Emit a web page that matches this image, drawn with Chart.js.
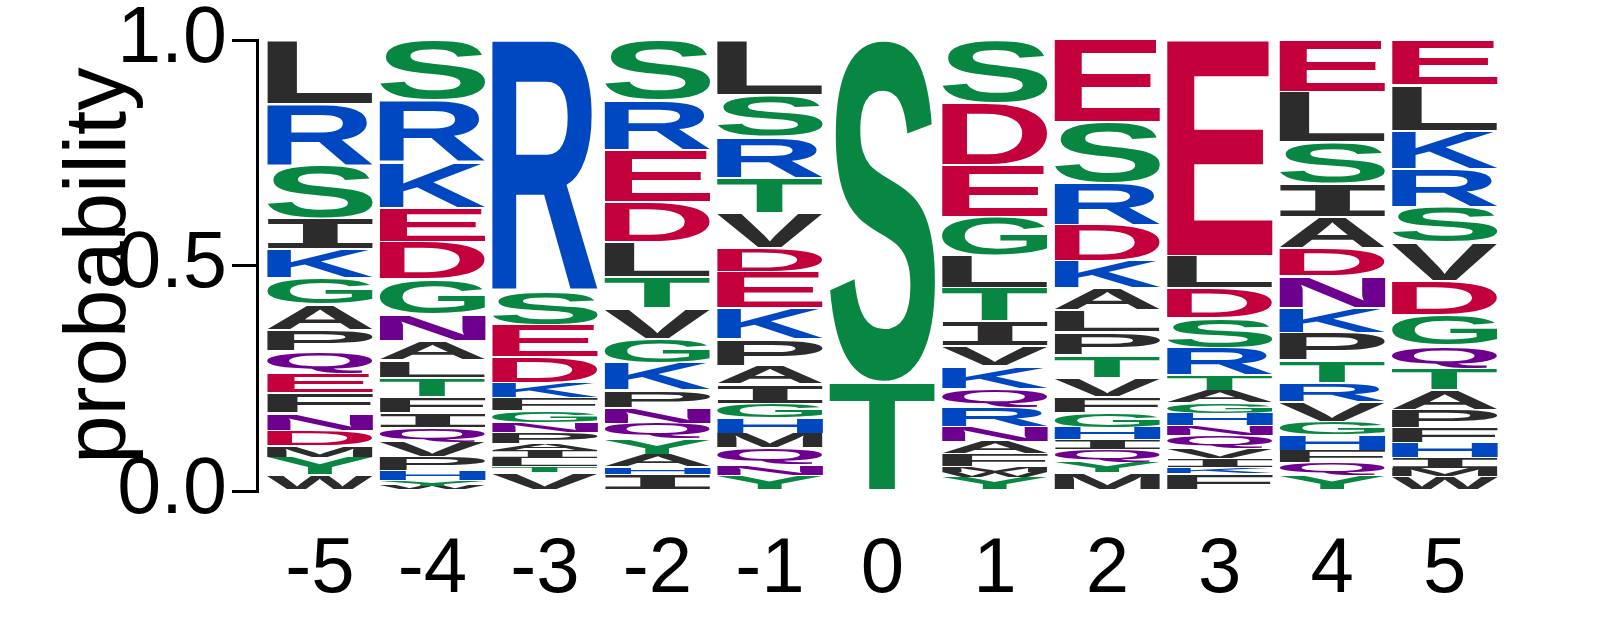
<!DOCTYPE html>
<html>
<head>
<meta charset="utf-8">
<script src="https://cdn.jsdelivr.net/npm/chart.js@4/dist/chart.umd.min.js"></script>
<style>
html,body{margin:0;padding:0;background:#fff;}
#wrap{width:1597px;height:625px;position:relative;}
</style>
</head>
<body>
<div id="wrap"><canvas id="c"></canvas></div>
<script>
// ---- data: for each position, letters listed top to bottom with their probabilities ----
const positions = [-5, -4, -3, -2, -1, 0, 1, 2, 3, 4, 5];
const tickLabels = ['-5', '-4', '-3', '-2', '-1', '0', '1', '2', '3', '4', '5'];
const yTicks = [0, 0.5, 1.0];

const letters_m5 = ['L','R','S','I','K','G','A','P','Q','E','F','N','D','M','Y','W'];
const probs_m5   = [0.142,0.137,0.117,0.068,0.064,0.059,0.056,0.047,0.049,0.044,0.044,0.039,0.033,0.026,0.04,0.035];

const letters_m4 = ['S','R','K','E','D','G','N','A','L','T','F','I','Q','V','P','H','Y','W'];
const probs_m4   = [0.133,0.137,0.102,0.075,0.084,0.078,0.059,0.042,0.039,0.042,0.035,0.033,0.033,0.033,0.03,0.022,0.012,0.011];

const letters_m3 = ['R','S','E','D','K','F','G','N','P','A','I','L','T','V'];
const probs_m3   = [0.557,0.075,0.071,0.058,0.033,0.027,0.027,0.022,0.024,0.016,0.018,0.018,0.013,0.041];

const letters_m2 = ['S','R','E','D','L','T','V','G','K','P','N','Q','Y','A','H','I'];
const probs_m2   = [0.133,0.111,0.115,0.089,0.078,0.069,0.067,0.055,0.06,0.038,0.035,0.035,0.035,0.027,0.016,0.037];

const letters_m1 = ['L','S','R','T','V','D','E','K','P','A','I','G','H','M','Q','N','Y'];
const probs_m1   = [0.122,0.093,0.091,0.078,0.078,0.053,0.08,0.069,0.058,0.042,0.042,0.033,0.033,0.033,0.038,0.022,0.035];

const letters_p0 = ['S','T'];
const probs_p0   = [0.758,0.242];

const letters_p1 = ['S','D','E','G','L','T','I','V','K','Q','R','N','A','F','M','W','Y'];
const probs_p1   = [0.14,0.137,0.115,0.086,0.071,0.075,0.055,0.044,0.051,0.04,0.044,0.033,0.027,0.027,0.013,0.011,0.031];

const letters_p2 = ['E','S','R','D','K','A','L','P','T','V','F','G','H','I','Q','Y','M'];
const probs_p2   = [0.182,0.135,0.093,0.08,0.06,0.049,0.049,0.051,0.051,0.042,0.035,0.033,0.027,0.022,0.027,0.024,0.04];

const letters_p3 = ['E','L','D','S','R','T','A','G','H','N','Q','V','I','K','F'];
const probs_p3   = [0.479,0.071,0.067,0.067,0.06,0.033,0.027,0.024,0.027,0.022,0.029,0.022,0.02,0.013,0.039];

const letters_p4 = ['E','L','S','I','A','D','N','K','P','T','R','V','G','H','F','Q','Y'];
const probs_p4   = [0.115,0.111,0.093,0.073,0.069,0.062,0.071,0.055,0.06,0.051,0.042,0.044,0.029,0.035,0.027,0.027,0.036];

const letters_p5 = ['E','L','K','R','S','V','D','G','Q','T','A','P','F','H','I','M','W'];
const probs_p5   = [0.1,0.102,0.084,0.084,0.08,0.084,0.075,0.069,0.049,0.049,0.044,0.04,0.033,0.033,0.024,0.018,0.032];

const columnLetters = [letters_m5, letters_m4, letters_m3, letters_m2, letters_m1, letters_p0,
                       letters_p1, letters_p2, letters_p3, letters_p4, letters_p5];
const columnProbs = [probs_m5, probs_m4, probs_m3, probs_m2, probs_m1, probs_p0,
                     probs_p1, probs_p2, probs_p3, probs_p4, probs_p5];

// ---- colour scheme (chemistry) ----
const GREEN = '#088742', BLUE = '#0047c2', RED = '#c3003c', PURPLE = '#6d008f', BLACK = '#2c2c2c';
const letterColor = {
  G: GREEN, S: GREEN, T: GREEN, Y: GREEN, C: GREEN,
  K: BLUE, R: BLUE, H: BLUE,
  D: RED, E: RED,
  N: PURPLE, Q: PURPLE,
  A: BLACK, V: BLACK, L: BLACK, I: BLACK, P: BLACK, F: BLACK, M: BLACK, W: BLACK
};

// ---- stacked layers, bottom layer first ----
const depth = Math.max(...columnLetters.map(a => a.length));
const datasets = [];
for (let k = 0; k < depth; k++) {
  datasets.push({
    label: 'layer ' + k,
    data: columnProbs.map(p => { const r = p.length - 1 - k; return r >= 0 ? p[r] : null; }),
    letters: columnLetters.map(l => { const r = l.length - 1 - k; return r >= 0 ? l[r] : ''; }),
    backgroundColor: 'rgba(0,0,0,0)',
    borderWidth: 0,
    barPercentage: 0.94,
    categoryPercentage: 1,
    xAxisID: 'x',
    yAxisID: 'y'
  });
}

function drawLetter(ctx, ch, left, top, w, h, color) {
  const family = ch === 'I' ? '"DejaVu Sans Mono"' : '"Liberation Sans", Arial, sans-serif';
  ctx.save();
  ctx.font = 'bold 200px ' + family;
  ctx.textAlign = 'left';
  ctx.textBaseline = 'alphabetic';
  const m = ctx.measureText(ch);
  const gl = m.actualBoundingBoxLeft, gr = m.actualBoundingBoxRight;
  const ga = m.actualBoundingBoxAscent, gd = m.actualBoundingBoxDescent;
  const inset = Math.min(1, h * 0.05);
  ctx.translate(left, top + inset);
  ctx.scale(w / (gl + gr), Math.max(h - 2 * inset, 0.2) / (ga + gd));
  ctx.fillStyle = color;
  ctx.fillText(ch, gl, ga);
  ctx.restore();
}

const logoPlugin = {
  id: 'logoLetters',
  afterDatasetsDraw(chart) {
    const ctx = chart.ctx;
    chart.data.datasets.forEach((ds, di) => {
      chart.getDatasetMeta(di).data.forEach((bar, i) => {
        const ch = ds.letters[i];
        if (!ch || ds.data[i] == null) return;
        const p = bar.getProps(['x', 'y', 'base', 'width'], true);
        const top = Math.min(p.y, p.base), h = Math.abs(p.base - p.y);
        if (!(h > 0.3)) return;
        drawLetter(ctx, ch, p.x - p.width / 2, top, p.width, h, letterColor[ch] || BLACK);
      });
    });
  }
};

const FONT = '"Liberation Sans", Arial, sans-serif';

new Chart(document.getElementById('c'), {
  type: 'bar',
  data: { labels: positions, datasets: datasets },
  plugins: [logoPlugin],
  options: {
    responsive: true,
    maintainAspectRatio: false,
    animation: false,
    devicePixelRatio: 1,
    layout: { padding: { top: 40, right: 96, bottom: 0, left: 0 } },
    plugins: { legend: { display: false }, tooltip: { enabled: false } },
    scales: {
      x: {
        type: 'linear', position: 'bottom', stacked: true, offset: false,
        min: -5.56, max: 5.5,
        afterBuildTicks: s => { s.ticks = positions.map(v => ({ value: v })); },
        afterFit: s => { s.height = 134; },
        ticks: {
          autoSkip: false, maxRotation: 0, minRotation: 0, padding: 40, color: '#000',
          font: { family: FONT, size: 78, lineHeight: 1 },
          callback: (v, i) => tickLabels[i]
        },
        grid: { display: false, drawTicks: false },
        border: { display: false }
      },
      y: {
        type: 'linear', position: 'left', stacked: true, min: 0, max: 1,
        afterFit: s => { s.width = 257; },
        afterBuildTicks: s => { s.ticks = yTicks.map(v => ({ value: v })); },
        ticks: {
          color: '#000', padding: 5,
          font: { family: FONT, size: 79, lineHeight: 0.6 },
          callback: v => Number(v).toFixed(1)
        },
        grid: { display: true, drawOnChartArea: false, drawTicks: true, tickLength: 25, lineWidth: 3, color: '#000' },
        border: { display: true, width: 3, color: '#000' },
        title: {
          display: true, text: 'probability', color: '#000',
          font: { family: FONT, size: 87, lineHeight: 1 },
          padding: { top: 58, bottom: 0 }
        }
      }
    }
  }
});
</script>
</body>
</html>
